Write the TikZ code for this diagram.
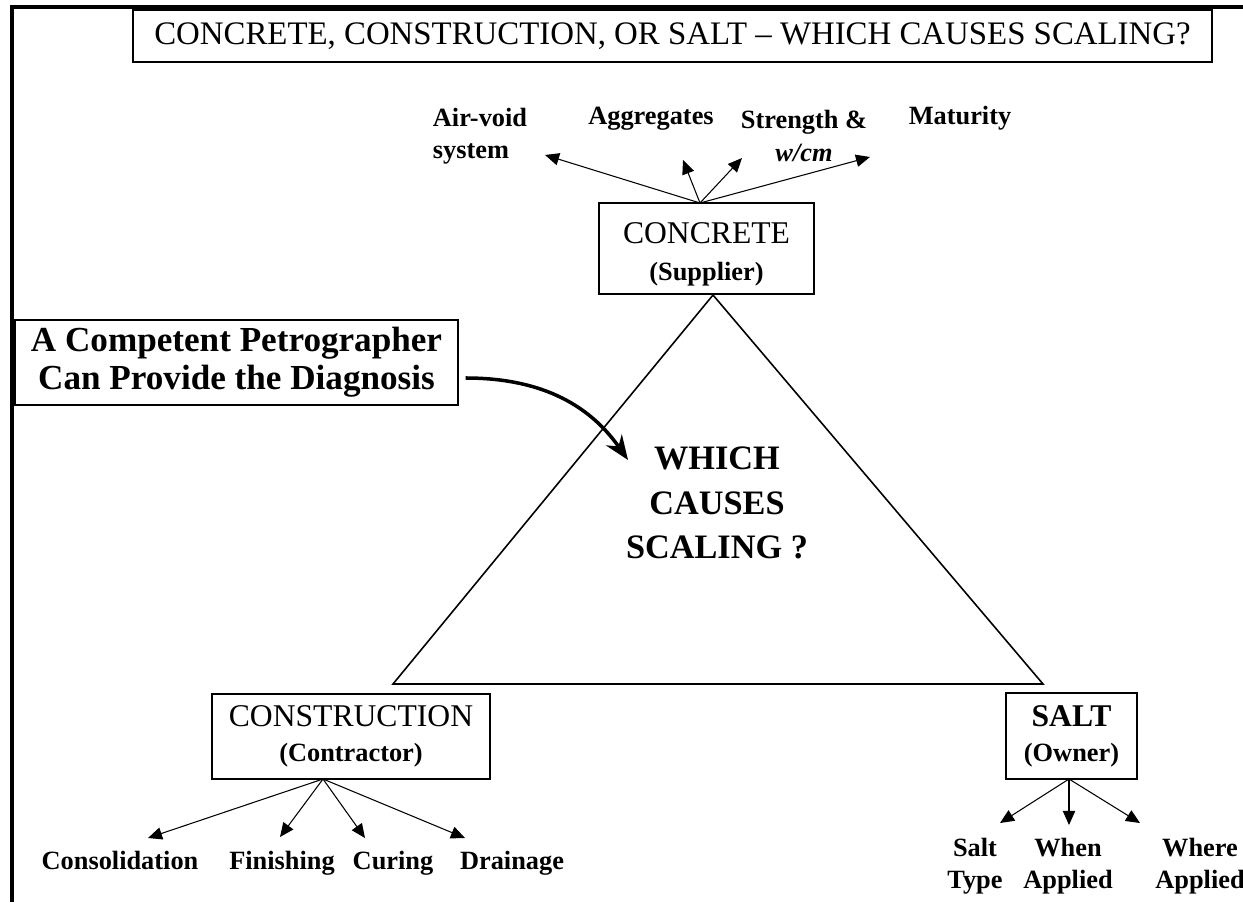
\documentclass[tikz,border=0pt]{standalone}
\usepackage{fontspec}
\setmainfont{Liberation Serif}
\usetikzlibrary{arrows.meta,positioning}
\begin{document}
\begin{tikzpicture}[x=0.02cm, y=-0.02cm, frame/.style={line width=2.2pt}, box/.style={draw,line width=0.8pt,align=center,inner sep=0pt,font=\bfseries\fontsize{15}{20}\selectfont}, lbl/.style={font=\bfseries\fontsize{15}{18.5}\selectfont,align=center,inner sep=0pt}, link/.style={-{Triangle[length=8pt,width=7pt]},line width=0.6pt}, tri/.style={line width=0.9pt}]
\useasboundingbox (0,0) rectangle (1243,902);
\draw[frame] (12,902) -- (12,7) -- (1243,7);
\node[draw,line width=0.8pt,minimum width=21.58cm,minimum height=1.04cm,font=\fontsize{18.7}{22}\selectfont] (title) at (672.5,36) {CONCRETE, CONSTRUCTION, OR SALT – WHICH CAUSES SCALING?};
\node[box,minimum width=4.3cm,minimum height=1.82cm,font=\bfseries\fontsize{15}{21}\selectfont] (concrete) at (706.5,248.5) {\rule{0pt}{19pt}{\mdseries\fontsize{18}{21}\selectfont CONCRETE}\\(Supplier)};
\node[box,minimum width=5.56cm,minimum height=1.7cm] (constr) at (351,736.5) {{\mdseries\fontsize{18}{20}\selectfont CONSTRUCTION}\\(Contractor)};
\node[box,minimum width=2.62cm,minimum height=1.72cm] (salt) at (1071.5,736) {{\fontsize{18}{20}\selectfont SALT}\\(Owner)};
\node[box,minimum width=8.86cm,minimum height=1.7cm,font=\bfseries\fontsize{20}{21.5}\selectfont] (petro) at (236.5,362.5) {A Competent Petrographer\\Can Provide the Diagnosis};
\node[font=\bfseries\fontsize{19.5}{25.5}\selectfont,align=center,inner sep=0pt] (which) at (717,503) {WHICH\\CAUSES\\SCALING ?};
\coordinate (apex) at (713,295); \coordinate (bl) at (393,684); \coordinate (br) at (1043,684);
\draw[tri] (apex) -- (br) -- (bl) -- cycle;
\coordinate (aim) at (628,460);
\draw[line width=2pt,-{Stealth[length=14pt,width=11pt]}] ([xshift=0.14cm,yshift=-0.31cm]petro.east) to[out=0,in=125] (aim);
\node[lbl,align=left] (airvoid) at (480,136) {Air-void\\system};
\node[lbl,anchor=base] (aggr) at (651,125) {Aggregates};
\node[lbl] (strength) at (804,136) {Strength \&\\\textit{w/cm}};
\node[lbl,anchor=base] (maturity) at (960,125) {Maturity};
\coordinate (ctop) at (700,203);
\coordinate (tair) at (545,155); \coordinate (tagg) at (683,160); \coordinate (tstr) at (742,158); \coordinate (tmat) at (870,157);
\draw[link] (ctop) -- (tair); \draw[link] (ctop) -- (tagg); \draw[link] (ctop) -- (tstr); \draw[link] (ctop) -- (tmat);
\node[lbl,anchor=base] (consol) at (120,869) {Consolidation};
\node[lbl,anchor=base] (finish) at (282,869) {Finishing};
\node[lbl,anchor=base] (curing) at (393,869) {Curing};
\node[lbl,anchor=base] (drain) at (512,869) {Drainage};
\coordinate (cfoot) at (323,779);
\coordinate (tcon) at (148,838); \coordinate (tfin) at (280,837); \coordinate (tcur) at (365,838); \coordinate (tdra) at (465,838);
\draw[link] (cfoot) -- (tcon); \draw[link] (cfoot) -- (tfin); \draw[link] (cfoot) -- (tcur); \draw[link] (cfoot) -- (tdra);
\node[lbl] (salttype) at (975,866) {Salt\\Type};
\node[lbl] (whenapp) at (1068,866) {When\\Applied};
\node[lbl] (whereapp) at (1200,866) {Where\\Applied};
\coordinate (sfoot) at (1069,779);
\coordinate (ttyp) at (1000,823); \coordinate (twhen) at (1069,825); \coordinate (twhere) at (1140,823);
\draw[link] (sfoot) -- (ttyp); \draw[link] (sfoot) -- (twhen); \draw[link] (sfoot) -- (twhere);
\end{tikzpicture}
\end{document}
